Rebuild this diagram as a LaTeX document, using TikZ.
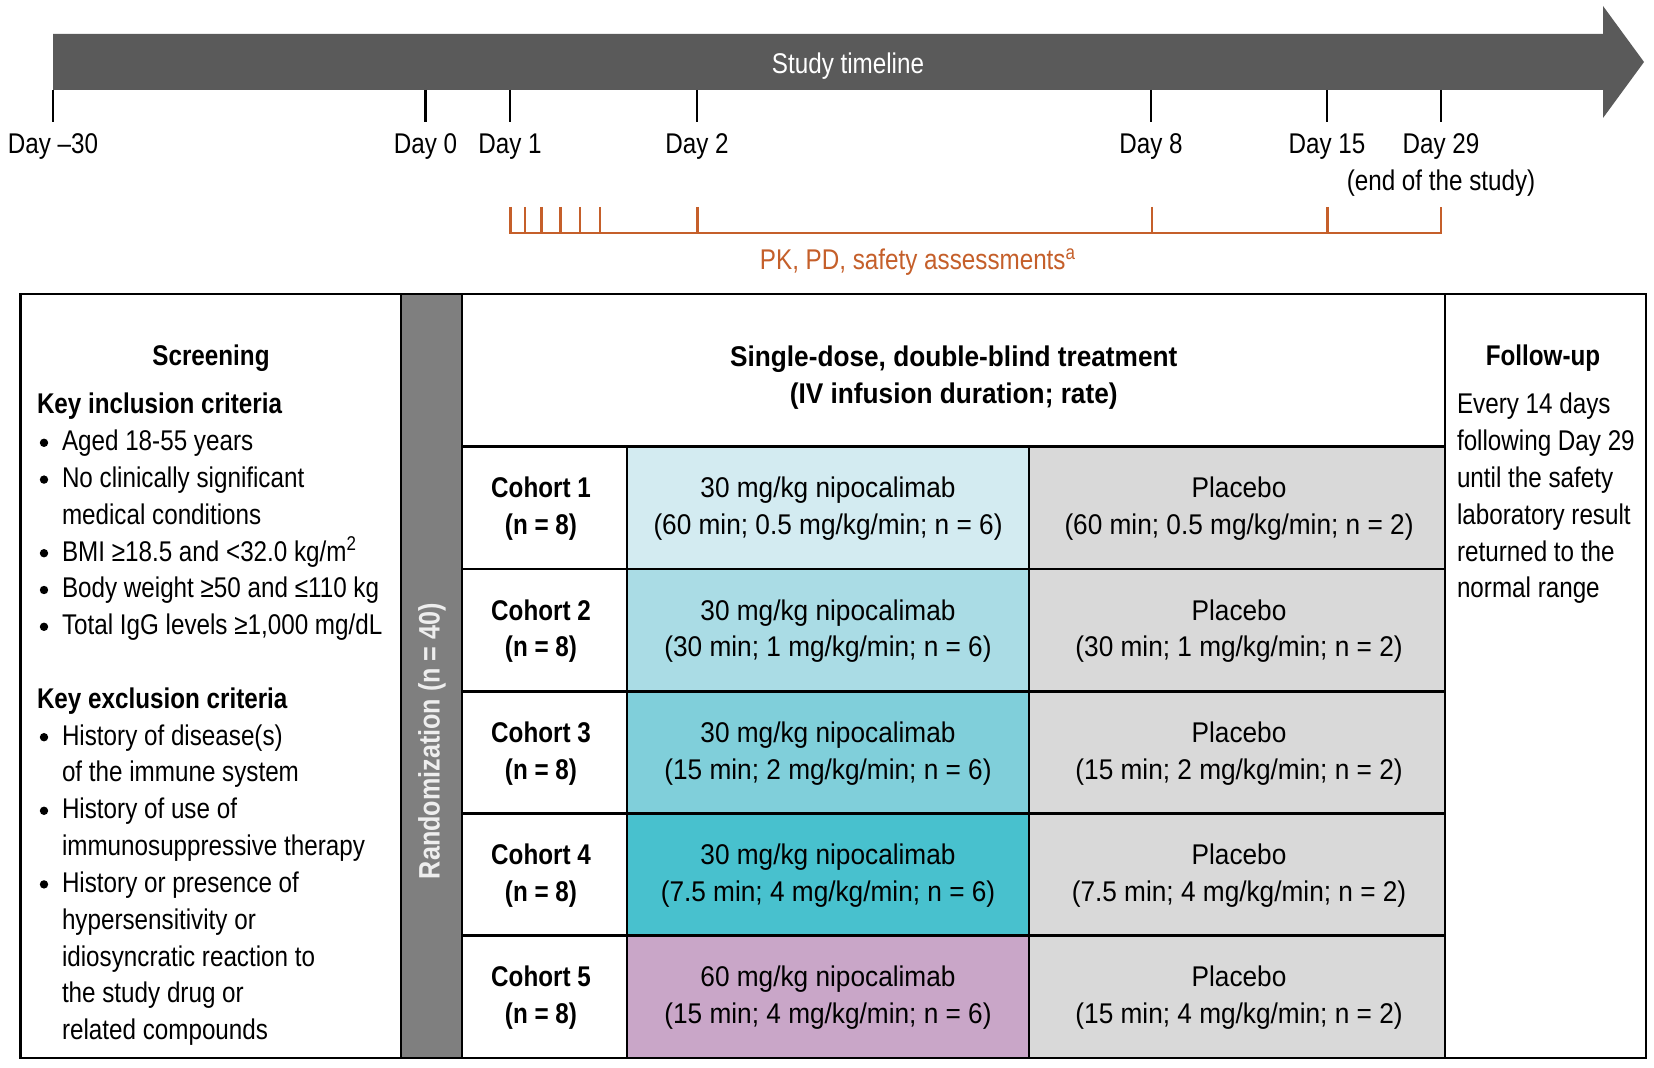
\documentclass[tikz,border=0pt]{standalone}
\usepackage{fontspec}
\setmainfont{Liberation Sans}[FakeStretch=0.85]
\newfontfamily\widefont{Liberation Sans}[FakeStretch=0.92]
\usetikzlibrary{fit}
\definecolor{arrowgray}{HTML}{5A5A5A}
\definecolor{randgray}{HTML}{7F7F7F}
\definecolor{randtext}{HTML}{EEEEEE}
\definecolor{placebo}{HTML}{D9D9D9}
\definecolor{cA}{HTML}{D3EBF1}
\definecolor{cB}{HTML}{AADCE5}
\definecolor{cC}{HTML}{80CFDA}
\definecolor{cD}{HTML}{48C1CE}
\definecolor{cE}{HTML}{C9A6C8}
\definecolor{pkorange}{HTML}{C55F2A}
\newcommand\fs{\fontsize{14.25pt}{18.4pt}\selectfont}
\begin{document}
\begin{tikzpicture}[x=0.5pt,y=-0.5pt,
  every node/.style={inner sep=0pt,outer sep=0pt},
  cell/.style={draw=black,line width=1.4pt,inner sep=0pt,outer sep=0pt},
  ctext/.style={align=center,font=\fs},
  lbl/.style={font=\fs,anchor=base},
  lft/.style={font=\fs,anchor=base west},
  bul/.style={circle,fill=black,minimum size=4.2pt},
  daytick/.style={line width=1.3pt,black},
  otick/.style={line width=1.3pt,pkorange},
]
\useasboundingbox (0,0) rectangle (1654,1068);
\fill[white] (0,0) rectangle (1654,1068);

% timeline arrow
\fill[arrowgray] (53,34) -- (1603,34) -- (1603,6) -- (1644,62) -- (1603,118) -- (1603,90) -- (53,90) -- cycle;
\node[lbl,text=white] (tl) at (848,73.5) {Study timeline};

\foreach \x/\t/\n in {53/Day –30/dm30, 425.5/Day 0/d0, 510/Day 1/d1, 697/Day 2/d2, 1151/Day 8/d8, 1327/Day 15/d15, 1441/Day 29/d29}{
  \draw[daytick] (\x,90) -- (\x,122);
  \node[lbl] (\n) at (\x,154) {\t};
}
\node[lbl] (end) at (1441,190.5) {(end of the study)};

% PK/PD assessments
\draw[otick] (510.5,207) -- (510.5,233) -- (1441,233) -- (1441,207);
\foreach \x in {525,541.5,560.5,580,600,697.5,1152,1327.5}{
  \draw[otick] (\x,207) -- (\x,233);
}
\node[lbl,text=pkorange] (pk) at (918,270) {PK, PD, safety assessments\textsuperscript{a}};

% table frame
\node[cell,fit={(20.4,294) (401,1058)}] (scr) {};
\node[cell,fill=randgray,fit={(401,294) (462,1058)}] (rand) {};
\node[cell,fit={(462,294) (1445,446.7)}] (hdr) {};
\node[cell,fit={(1445,294) (1646,1058)}] (fu) {};

\node[ctext,font=\fs\bfseries\widefont] (hdrtxt) at (953.7,377.5) {Single-dose, double-blind treatment\\(IV infusion duration; rate)};

% cohorts
\foreach \i/\col/\dose/\dur in {1/cA/30/{60 min; 0.5 mg/kg/min}, 2/cB/30/{30 min; 1 mg/kg/min}, 3/cC/30/{15 min; 2 mg/kg/min}, 4/cD/30/{7.5 min; 4 mg/kg/min}, 5/cE/60/{15 min; 4 mg/kg/min}}{
  \pgfmathsetmacro\ya{446.7+(\i-1)*122.26}
  \pgfmathsetmacro\yb{446.7+\i*122.26}
  \pgfmathsetmacro\yc{446.7+(\i-0.5)*122.26+1}
  \node[cell,fit={(462,\ya) (627,\yb)}] (coh\i) {};
  \node[cell,fill=\col,fit={(627,\ya) (1029,\yb)}] (nip\i) {};
  \node[cell,fill=placebo,fit={(1029,\ya) (1445,\yb)}] (pla\i) {};
  \node[ctext,font=\fs\bfseries] (coht\i) at (541,\yc) {Cohort \i\\(n = 8)};
  \node[ctext,font=\fs\widefont] (nipt\i) at (828,\yc) {\dose{} mg/kg nipocalimab\\(\dur; n = 6)};
  \node[ctext,font=\fs\widefont] (plat\i) at (1239,\yc) {Placebo\\(\dur; n = 2)};
}

% randomization label
\node[font=\fontsize{14.8pt}{18pt}\selectfont\bfseries,text=randtext,rotate=90] (rtxt) at (432,741) {Randomization (n = 40)};

% screening
\node[lbl,font=\fs\bfseries] (scrt) at (211,366) {Screening};
\node[lft,font=\fs\bfseries] (inc) at (37,414) {Key inclusion criteria};
\foreach \k/\t in {1/{Aged 18-55 years}, 2/{No clinically significant}, 4/{BMI ≥18.5 and <32.0 kg/m\textsuperscript{2}}, 5/{Body weight ≥50 and ≤110 kg}, 6/{Total IgG levels ≥1,000 mg/dL}, 9/{History of disease(s)}, 11/{History of use of}, 13/{History or presence of}}{
  \node[bul] (b\k) at (44,414+\k*36.8-8) {};
  \node[lft] (s\k) at (62,414+\k*36.8) {\t};
}
\foreach \k/\t in {3/{medical conditions}, 10/{of the immune system}, 12/{immunosuppressive therapy}, 14/{hypersensitivity or}, 15/{idiosyncratic reaction to}, 16/{the study drug or}, 17/{related compounds}}{
  \node[lft] (s\k) at (62,414+\k*36.8) {\t};
}
\node[lft,font=\fs\bfseries] (exc) at (37,414+8*36.8) {Key exclusion criteria};

% follow-up
\node[lbl,font=\fs\bfseries] (fut) at (1543,366) {Follow-up};
\foreach \k/\t in {0/{Every 14 days}, 1/{following Day 29}, 2/{until the safety}, 3/{laboratory result}, 4/{returned to the}, 5/{normal range}}{
  \node[lft] (f\k) at (1457,414+\k*36.8) {\t};
}
\end{tikzpicture}
\end{document}
